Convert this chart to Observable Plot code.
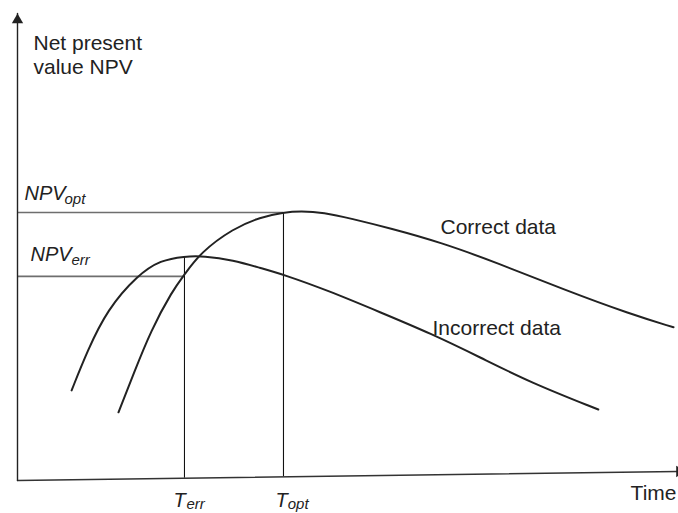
<!DOCTYPE html>
<html>
<head>
<meta charset="utf-8">
<script src="https://cdn.jsdelivr.net/npm/d3@7"></script>
<script src="https://cdn.jsdelivr.net/npm/@observablehq/plot@0.6"></script>
<style>
  html, body { margin: 0; padding: 0; background: #fff; }
  #chart svg { display: block; }
</style>
</head>
<body>
<div id="chart"></div>
<script>
// Time (arbitrary units 0..100) and NPV (arbitrary units 0..100)
const correctT = [15.3, 17.6, 20.2, 23.5, 25.2, 27.7, 32.7, 36.8, 40.3, 42.9, 46.4, 50.5, 56.5, 64.1, 72.7, 82.7, 92.9, 99.4];
const correctV = [14.6, 22.9, 32.1, 40.7, 43.9, 48.8, 54.0, 56.4, 57.4, 57.7, 57.4, 56.1, 54.0, 51.0, 46.6, 40.9, 35.6, 32.8];
const incorrectT = [8.2, 10.6, 13.6, 18.2, 21.7, 25.3, 28.2, 32.7, 36.8, 40.3, 47.0, 55.0, 62.6, 70.2, 77.7, 88.0];
const incorrectV = [19.3, 27.8, 36.6, 44.0, 47.2, 48.0, 48.1, 47.2, 45.5, 44.1, 40.7, 36.0, 31.5, 26.3, 21.0, 15.2];

const T_err = 25.3, T_opt = 40.3;
const NPV_err = 43.7, NPV_opt = 57.4, NPV_errPeak = 47.8;

// Axis end points (the time axis rises slightly in the original)
const xAxisT = [0, 100];
const xAxisV = [0, 1.93];
const yAxisT = [0, 0];
const yAxisV = [0, 100];

const labels = [
  {text: "Net present\nvalue NPV", t: 2.42, v: 86.94, size: 21, italic: false, anchor: "start"},
  {text: "Correct data", t: 64.09, v: 52.68, size: 21, italic: false, anchor: "start"},
  {text: "Incorrect data", t: 62.88, v: 31.26, size: 21, italic: false, anchor: "start"},
  {text: "Time", t: 99.85, v: -4.28, size: 21, italic: false, anchor: "end"},
  {text: "NPV", t: 1.06, v: 60.17, size: 20, italic: true, anchor: "start"},
  {text: "opt", t: 7.12, v: 59.31, size: 15, italic: true, anchor: "start"},
  {text: "NPV", t: 1.97, v: 46.9, size: 20, italic: true, anchor: "start"},
  {text: "err", t: 8.18, v: 46.04, size: 15, italic: true, anchor: "start"},
  {text: "T", t: 23.64, v: -5.6, size: 20, italic: true, anchor: "start"},
  {text: "err", t: 25.6, v: -6.2, size: 15, italic: true, anchor: "start"},
  {text: "T", t: 39.09, v: -5.6, size: 20, italic: true, anchor: "start"},
  {text: "opt", t: 40.95, v: -6.2, size: 15, italic: true, anchor: "start"}
];

const correct = correctT.map((t, i) => ({t, v: correctV[i]}));
const incorrect = incorrectT.map((t, i) => ({t, v: incorrectV[i]}));
const xAxis = xAxisT.map((t, i) => ({t, v: xAxisV[i]}));
const yAxis = yAxisT.map((t, i) => ({t, v: yAxisV[i]}));
const axisAt = t => xAxisV[0] + (xAxisV[1] - xAxisV[0]) * (t - xAxisT[0]) / (xAxisT[1] - xAxisT[0]);

const verticals = [
  {t: T_err, v1: axisAt(T_err), v2: NPV_errPeak},
  {t: T_opt, v1: axisAt(T_opt), v2: NPV_opt}
];
const horizontals = [
  {v: NPV_opt, t1: 0, t2: T_opt},
  {v: NPV_err, t1: 0, t2: T_err}
];
const arrowHeads = [
  {t: 0, v: 98.6, rotate: 0},
  {t: 100.3, v: 1.93, rotate: 90}
];

const font = "'Liberation Sans', Arial, Helvetica, sans-serif";
const textMarks = labels.map(d => Plot.text([d], {
  x: "t", y: "v", text: "text",
  textAnchor: d.anchor, lineAnchor: "bottom",
  fontSize: d.size, fontStyle: d.italic ? "italic" : "normal",
  fontFamily: font, lineHeight: 1.19, fill: "#222"
}));

const chart = Plot.plot({
  width: 678,
  height: 513,
  marginLeft: 17,
  marginRight: 1,
  marginTop: 13,
  marginBottom: 33,
  x: {domain: [0, 100], axis: null},
  y: {domain: [0, 100], axis: null},
  style: {background: "#fff", fontFamily: font},
  marks: [
    Plot.ruleY(horizontals, {y: "v", x1: "t1", x2: "t2", stroke: "#6e6e6e", strokeWidth: 1.6}),
    Plot.ruleX(verticals, {x: "t", y1: "v1", y2: "v2", stroke: "#111", strokeWidth: 1.1}),
    Plot.line(xAxis, {x: "t", y: "v", stroke: "#333", strokeWidth: 1.4}),
    Plot.line(yAxis, {x: "t", y: "v", stroke: "#222", strokeWidth: 1.4}),
    Plot.dot(arrowHeads, {x: "t", y: "v", symbol: "triangle", r: 4.2, fill: "#222", stroke: "none", rotate: "rotate"}),
    Plot.line(correct, {x: "t", y: "v", curve: "basis", stroke: "#222", strokeWidth: 2}),
    Plot.line(incorrect, {x: "t", y: "v", curve: "basis", stroke: "#222", strokeWidth: 2}),
    ...textMarks
  ]
});
document.getElementById("chart").appendChild(chart);
</script>
</body>
</html>
